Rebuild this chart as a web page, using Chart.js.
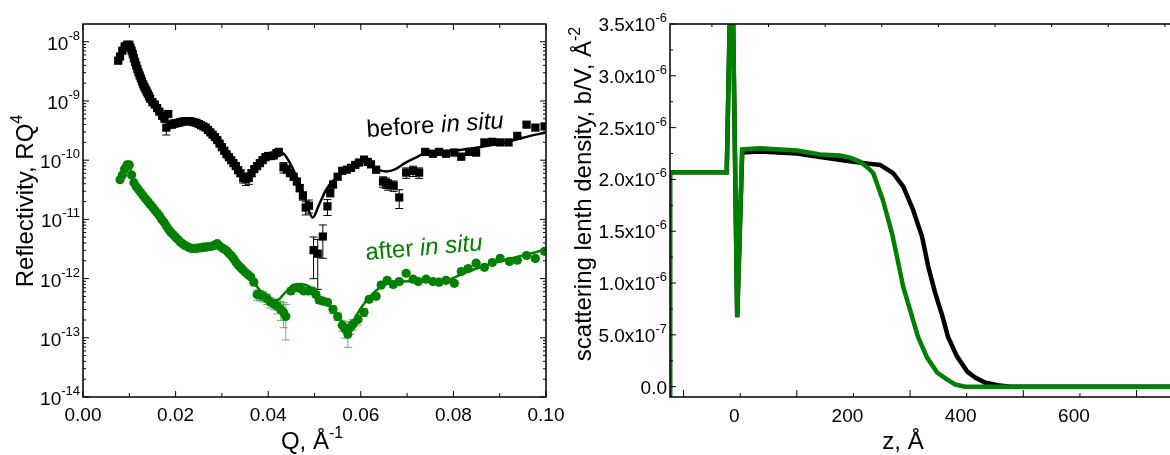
<!DOCTYPE html>
<html>
<head>
<meta charset="utf-8">
<script src="https://cdn.jsdelivr.net/npm/chart.js@4.4.0/dist/chart.umd.min.js"></script>
<style>
    html, body { margin: 0; padding: 0; background: #fff; overflow: hidden; }
    #izq { position: absolute; left: 0; top: 0; }
    #der { position: absolute; left: 560px; top: 0; }
</style>
</head>
<body>
<canvas id="izq" width="600" height="455"></canvas>
<canvas id="der" width="610" height="455"></canvas>
<script>
// ---- datos panel izquierdo (Q en 1/A, exponente log10 de RQ^4) ----
const qBefore = [
    0.0076,0.0080,0.0085,0.0090,0.0095,0.0100,0.0105,0.0110,0.0115,0.0120,
    0.0125,0.0130,0.0135,0.0140,0.0145,0.0150,0.0155,0.0160,0.0165,0.0171,
    0.0176,0.0180,0.0184,0.0188,0.0192,0.0196,0.0200,0.0205,0.0210,0.0215,
    0.0220,0.0225,0.0230,0.0235,0.0240,0.0245,0.0250,0.0255,0.0260,0.0265,
    0.0270,0.0275,0.0280,0.0285,0.0290,0.0295,0.0300,0.0305,0.0310,0.0315,
    0.0320,0.0325,0.0330,0.0335,0.0340,0.0346,0.0352,0.0358,0.0364,0.0370,
    0.0376,0.0382,0.0388,0.0394,0.0400,0.0406,0.0412,0.0418,0.0423,0.0433,
    0.0440,0.0447,0.0455,0.0462,0.0468,0.0475,0.0481,0.0488,0.0498,0.0507,
    0.0518,0.0528,0.0534,0.0540,0.0550,0.0560,0.0570,0.0579,0.0588,0.0596,
    0.0607,0.0615,0.0622,0.0633,0.0648,0.0654,0.0659,0.0671,0.0683,0.0698,
    0.0713,0.0726,0.0739,0.0756,0.0769,0.0784,0.0802,0.0817,0.0834,0.0849,
    0.0867,0.0884,0.0901,0.0919,0.0938,0.0958,0.0977,0.0997,
    // puntos densos de la zona empinada
    0.01025,0.01075,0.01125,0.01175,0.01225,0.01275,0.01325,0.01375,0.01425
];
const lgBefore = [
    -8.32,-8.25,-8.15,-8.08,-8.05,-8.05,-8.15,-8.28,-8.40,-8.52,
    -8.62,-8.72,-8.80,-8.88,-8.96,-9.02,-9.06,-9.12,-9.18,-9.25,
    -9.30,-9.45,-9.22,-9.40,-9.40,-9.38,-9.38,-9.37,-9.36,-9.35,
    -9.34,-9.34,-9.34,-9.35,-9.36,-9.37,-9.39,-9.41,-9.43,-9.45,
    -9.49,-9.53,-9.57,-9.61,-9.66,-9.72,-9.78,-9.84,-9.90,-9.95,
    -10.00,-10.05,-10.10,-10.17,-10.22,-10.30,-10.32,-10.30,-10.22,-10.15,
    -10.10,-10.05,-10.00,-9.95,-9.93,-9.93,-9.92,-9.88,-9.86,-10.12,
    -10.15,-10.22,-10.28,-10.36,-10.47,-10.60,-10.80,-10.77,-11.52,-11.58,
    -11.29,-10.78,-10.55,-10.41,-10.28,-10.18,-10.16,-10.13,-10.08,-10.04,
    -9.99,-10.03,-10.07,-10.16,-10.36,-10.38,-10.41,-10.43,-10.63,-10.21,
    -10.18,-10.21,-9.86,-9.89,-9.86,-9.89,-9.87,-9.94,-9.86,-9.87,
    -9.70,-9.69,-9.70,-9.70,-9.59,-9.40,-9.45,-9.43,
    -8.10,-8.21,-8.34,-8.46,-8.57,-8.67,-8.76,-8.84,-8.92
];
// error relativo de cada punto
const errBefore = [
    0.05,0.05,0.05,0.05,0.05,0.05,0.05,0.05,0.05,0.05,
    0.05,0.05,0.05,0.05,0.05,0.05,0.05,0.05,0.05,0.05,
    0.06,0.25,0.10,0.10,0.08,0.08,0.06,0.06,0.06,0.06,
    0.06,0.06,0.06,0.06,0.06,0.06,0.06,0.06,0.06,0.06,
    0.06,0.06,0.06,0.06,0.06,0.06,0.06,0.06,0.06,0.06,
    0.06,0.08,0.10,0.10,0.12,0.18,0.22,0.22,0.12,0.10,
    0.10,0.10,0.10,0.10,0.10,0.10,0.10,0.10,0.10,0.20,
    0.15,0.12,0.12,0.12,0.14,0.16,0.25,0.25,0.67,0.75,
    0.57,0.30,0.15,0.12,0.10,0.10,0.10,0.10,0.10,0.10,
    0.10,0.10,0.12,0.12,0.20,0.20,0.20,0.20,0.35,0.20,
    0.20,0.20,0.12,0.12,0.12,0.12,0.12,0.12,0.12,0.12,
    0.10,0.10,0.10,0.10,0.10,0.10,0.10,0.10,
    0.05,0.05,0.05,0.05,0.05,0.05,0.05,0.05,0.05
];

const qAfter = [
    0.0080,0.0085,0.0090,0.0095,0.0100,0.0105,0.0110,0.0115,0.0120,0.0125,
    0.0130,0.0135,0.0140,0.0145,0.0150,0.0155,0.0160,0.0165,0.0170,0.0175,
    0.0180,0.0185,0.0190,0.0195,0.0200,0.0205,0.0210,0.0215,0.0220,0.0225,
    0.0230,0.0235,0.0240,0.0245,0.0250,0.0255,0.0260,0.0265,0.0270,0.0275,
    0.0280,0.0285,0.0290,0.0295,0.0300,0.0305,0.0310,0.0315,0.0320,0.0325,
    0.0330,0.0335,0.0340,0.0345,0.0350,0.0356,0.0362,0.0369,0.0376,0.0383,
    0.0390,0.0398,0.0405,0.0413,0.0420,0.0427,0.0433,0.0438,0.0449,0.0456,
    0.0463,0.0470,0.0477,0.0486,0.0496,0.0503,0.0510,0.0518,0.0528,0.0540,
    0.0550,0.0560,0.0566,0.0572,0.0578,0.0583,0.0594,0.0607,0.0618,0.0633,
    0.0644,0.0657,0.0670,0.0683,0.0698,0.0713,0.0724,0.0741,0.0756,0.0769,
    0.0784,0.0802,0.0817,0.0832,0.0849,0.0867,0.0884,0.0901,0.0921,0.0938,
    0.0958,0.0977,0.0997
];
const lgAfter = [
    -10.33,-10.25,-10.15,-10.08,-10.08,-10.25,-10.38,-10.45,-10.50,-10.55,
    -10.60,-10.65,-10.70,-10.75,-10.79,-10.84,-10.89,-10.94,-11.00,-11.05,
    -11.11,-11.17,-11.22,-11.26,-11.30,-11.34,-11.38,-11.41,-11.44,-11.46,
    -11.48,-11.49,-11.49,-11.49,-11.48,-11.48,-11.47,-11.47,-11.46,-11.46,
    -11.45,-11.43,-11.41,-11.45,-11.48,-11.50,-11.53,-11.57,-11.61,-11.66,
    -11.72,-11.77,-11.81,-11.85,-11.89,-11.93,-11.97,-12.06,-12.27,-12.28,
    -12.30,-12.34,-12.40,-12.43,-12.47,-12.52,-12.57,-12.64,-12.21,-12.16,
    -12.15,-12.17,-12.21,-12.21,-12.21,-12.27,-12.36,-12.38,-12.40,-12.52,
    -12.64,-12.79,-12.85,-12.94,-12.82,-12.77,-12.69,-12.57,-12.35,-12.30,
    -12.11,-12.03,-12.10,-12.05,-11.91,-12.01,-12.05,-12.01,-12.05,-12.06,
    -12.03,-12.08,-11.88,-11.83,-11.74,-11.81,-11.73,-11.66,-11.71,-11.69,
    -11.61,-11.66,-11.54
];
const errAfter = [
    0.05,0.05,0.05,0.05,0.05,0.05,0.05,0.05,0.05,0.05,
    0.05,0.05,0.05,0.05,0.05,0.05,0.05,0.05,0.05,0.05,
    0.05,0.05,0.05,0.05,0.05,0.05,0.05,0.05,0.05,0.05,
    0.05,0.05,0.05,0.05,0.05,0.05,0.05,0.05,0.05,0.05,
    0.05,0.05,0.05,0.05,0.05,0.05,0.05,0.05,0.05,0.05,
    0.05,0.05,0.06,0.06,0.06,0.08,0.08,0.10,0.20,0.20,
    0.20,0.20,0.20,0.20,0.25,0.35,0.45,0.60,0.12,0.10,
    0.10,0.10,0.10,0.10,0.10,0.10,0.12,0.12,0.12,0.15,
    0.15,0.20,0.30,0.40,0.25,0.20,0.20,0.15,0.12,0.10,
    0.10,0.10,0.10,0.10,0.10,0.10,0.10,0.10,0.10,0.10,
    0.10,0.10,0.10,0.10,0.10,0.10,0.10,0.10,0.10,0.10,
    0.10,0.10,0.10
];

// curvas de ajuste
const fitQBefore = [
    0.0076,0.0095,0.0100,0.0110,0.0130,0.0150,0.0170,0.0185,0.0200,0.0230,
    0.0260,0.0290,0.0320,0.0340,0.0352,0.0365,0.0390,0.0415,0.0430,0.0445,
    0.0465,0.0480,0.0496,0.0510,0.0525,0.0540,0.0560,0.0580,0.0600,0.0615,
    0.0635,0.0655,0.0675,0.0695,0.0715,0.0740,0.0770,0.0800,0.0850,0.0900,
    0.0950,0.1000
];
const fitLgBefore = [
    -8.32,-8.05,-8.05,-8.28,-8.72,-9.02,-9.24,-9.38,-9.38,-9.34,
    -9.43,-9.66,-10.00,-10.20,-10.26,-10.18,-10.00,-9.90,-9.88,-10.02,
    -10.35,-10.65,-10.97,-10.75,-10.50,-10.35,-10.22,-10.12,-10.02,-10.05,
    -10.15,-10.19,-10.15,-10.05,-9.97,-9.88,-9.85,-9.84,-9.79,-9.72,
    -9.62,-9.53
];
const fitQAfter = [
    0.0080,0.0098,0.0110,0.0130,0.0150,0.0170,0.0190,0.0210,0.0230,0.0250,
    0.0270,0.0290,0.0310,0.0330,0.0350,0.0370,0.0390,0.0410,0.0420,0.0435,
    0.0450,0.0470,0.0490,0.0510,0.0530,0.0550,0.0565,0.0572,0.0585,0.0600,
    0.0620,0.0640,0.0660,0.0690,0.0720,0.0760,0.0790,0.0820,0.0850,0.0900,
    0.0950,0.1000
];
const fitLgAfter = [
    -10.33,-10.07,-10.38,-10.60,-10.79,-11.00,-11.22,-11.38,-11.48,-11.48,
    -11.46,-11.42,-11.53,-11.72,-11.89,-12.08,-12.27,-12.36,-12.36,-12.25,
    -12.14,-12.09,-12.14,-12.30,-12.45,-12.62,-12.78,-12.82,-12.70,-12.50,
    -12.30,-12.16,-12.08,-12.05,-12.04,-12.04,-12.02,-11.92,-11.83,-11.71,
    -11.61,-11.51
];

// ---- datos panel derecho (z en A, densidad en 1e-6 A^-2) ----
const zAfter = [-124,-124,-23.8,-15,-5.3,3.5,35,100,141,176,194,212,228,235,252,268,277,288,300,314,330,348,365,380,397,759];
const sldAfter = [-0.12,2.07,2.07,4.5,0.67,2.29,2.30,2.28,2.24,2.23,2.21,2.17,2.10,2.06,1.80,1.48,1.25,0.96,0.74,0.48,0.28,0.135,0.07,0.02,0.0,0.0];
const zBefore = [-124,-124,-23.8,-15,-5.3,3.5,35,100,150,200,230,247,270,288,305,321,332,344,357,367,383,401,415,432,459,477,759];
const sldBefore = [-0.12,2.07,2.07,4.5,0.67,2.26,2.27,2.25,2.21,2.17,2.15,2.14,2.06,1.93,1.71,1.45,1.16,0.91,0.68,0.48,0.29,0.145,0.087,0.04,0.01,0.0,0.0];

// ticks
const qTicks = [0, 0.02, 0.04, 0.06, 0.08, 0.10];
const qTickLabels = ['0.00', '0.02', '0.04', '0.06', '0.08', '0.10'];
const lgTicks = [-14, -13, -12, -11, -10, -9, -8];
const zTicks = [0, 200, 400, 600];
const sldTicks = [0, 0.5, 1.0, 1.5, 2.0, 2.5, 3.0, 3.5];
const sldTickLabels = [['0.0', ''], ['5.0x10', '-7'], ['1.0x10', '-6'], ['1.5x10', '-6'],
    ['2.0x10', '-6'], ['2.5x10', '-6'], ['3.0x10', '-6'], ['3.5x10', '-6']];

const VERDE = 'rgb(0,128,0)';

const puntos = (xs, ys) => xs.map((x, i) => ({x, y: ys[i]}));
const fuente = (s, it) => (it ? 'italic ' : '') + s + 'px "Liberation Sans", Arial, sans-serif';

// texto con superindice
const textoSup = (ctx, base, sup, x, y, size, supSize, raise, align) => {
    ctx.font = fuente(size);
    const wb = ctx.measureText(base).width;
    ctx.font = fuente(supSize);
    const ws = sup ? ctx.measureText(sup).width : 0;
    let x0 = x;
    if (align === 'right') x0 = x - wb - ws;
    if (align === 'center') x0 = x - (wb + ws) / 2;
    ctx.textAlign = 'left';
    ctx.textBaseline = 'alphabetic';
    ctx.font = fuente(size);
    ctx.fillText(base, x0, y);
    if (sup) {
        ctx.font = fuente(supSize);
        ctx.fillText(sup, x0 + wb, y - raise);
    }
};

const textoRotado = (ctx, partes, x, y, ang, color) => {
    ctx.save();
    ctx.translate(x, y);
    ctx.rotate(ang * Math.PI / 180);
    ctx.fillStyle = color;
    ctx.textAlign = 'left';
    ctx.textBaseline = 'alphabetic';
    let cx = 0;
    partes.forEach(([t, it]) => {
        ctx.font = fuente(24, it);
        ctx.fillText(t, cx, 0);
        cx += ctx.measureText(t).width;
    });
    ctx.restore();
};

// barras de error (error relativo -> limites en escala log)
const barrasError = {
    id: 'barrasError',
    beforeDatasetsDraw(chart) {
        const {ctx, chartArea: a, scales: {x, y}} = chart;
        ctx.save();
        ctx.beginPath();
        ctx.rect(a.left, a.top, a.right - a.left, a.bottom - a.top);
        ctx.clip();
        chart.data.datasets.forEach(ds => {
            if (!ds.errs) return;
            ctx.strokeStyle = ds.errColor;
            ctx.lineWidth = 1;
            ctx.beginPath();
            ds.data.forEach((p, i) => {
                const e = ds.errs[i];
                const px = x.getPixelForValue(p.x);
                const top = y.getPixelForValue(p.y + Math.log10(1 + e));
                const bot = y.getPixelForValue(p.y + Math.log10(1 - e));
                ctx.moveTo(px, top); ctx.lineTo(px, bot);
                ctx.moveTo(px - 4, top); ctx.lineTo(px + 4, top);
                ctx.moveTo(px - 4, bot); ctx.lineTo(px + 4, bot);
            });
            ctx.stroke();
        });
        ctx.restore();
    }
};

// marco, ticks y rotulos del panel izquierdo
const ejesIzq = {
    id: 'ejesIzq',
    afterDraw(chart) {
        const {ctx, chartArea: a, scales: {x, y}} = chart;
        ctx.save();
        ctx.strokeStyle = '#000';
        ctx.fillStyle = '#000';
        ctx.lineWidth = 1.5;
        ctx.strokeRect(a.left, a.top, a.right - a.left, a.bottom - a.top);
        ctx.lineWidth = 1;
        ctx.beginPath();
        for (let k = 0; k <= 10; k++) {
            const px = x.getPixelForValue(k / 100);
            const len = k % 2 ? 4 : 6;
            ctx.moveTo(px, a.bottom); ctx.lineTo(px, a.bottom - len);
            ctx.moveTo(px, a.top); ctx.lineTo(px, a.top + len);
        }
        for (let d = -14; d <= -8; d++) {
            for (let m = 1; m <= 9; m++) {
                const v = d + Math.log10(m);
                if (v > y.max) break;
                const py = y.getPixelForValue(v);
                const len = m === 1 ? 6 : 3;
                ctx.moveTo(a.left, py); ctx.lineTo(a.left + len, py);
                ctx.moveTo(a.right, py); ctx.lineTo(a.right - len, py);
            }
        }
        ctx.stroke();

        qTicks.forEach((q, i) => {
            textoSup(ctx, qTickLabels[i], '', x.getPixelForValue(q), 421, 19, 13, 10, 'center');
        });
        lgTicks.forEach(d => {
            textoSup(ctx, '10', String(d), 80, y.getPixelForValue(d) + 8, 19, 13, 10, 'right');
        });

        textoSup(ctx, 'Q, Å', '-1', 312, 449, 24, 16, 11, 'center');
        ctx.save();
        ctx.translate(33, 201);
        ctx.rotate(-Math.PI / 2);
        textoSup(ctx, 'Reflectivity, RQ', '4', 0, 0, 24, 16, 11, 'center');
        ctx.restore();

        textoRotado(ctx, [['before ', false], ['in situ', true]], 367, 137, -3.7, '#000');
        textoRotado(ctx, [['after ', false], ['in situ', true]], 366, 260, -4.8, VERDE);
        ctx.restore();
    }
};

// marco, ticks y rotulos del panel derecho
const ejesDer = {
    id: 'ejesDer',
    afterDraw(chart) {
        const {ctx, chartArea: a, scales: {x, y}} = chart;
        ctx.save();
        ctx.strokeStyle = '#000';
        ctx.fillStyle = '#000';
        ctx.lineWidth = 1.5;
        ctx.beginPath();
        ctx.moveTo(a.right, a.top); ctx.lineTo(a.left, a.top);
        ctx.lineTo(a.left, a.bottom); ctx.lineTo(a.right, a.bottom);
        ctx.stroke();
        ctx.lineWidth = 1;
        ctx.beginPath();
        for (let z = -100; z <= 700; z += 100) {
            const px = x.getPixelForValue(z);
            const len = (z / 100) % 2 ? 7 : 4;
            ctx.moveTo(px, a.bottom); ctx.lineTo(px, a.bottom - len);
            const pt = x.getPixelForValue(z + 50);
            ctx.moveTo(pt, a.top); ctx.lineTo(pt, a.top + 3);
        }
        for (let v = 0; v <= 3.5; v += 0.25) {
            const py = y.getPixelForValue(v);
            const len = (v * 4) % 2 ? 3 : 6;
            ctx.moveTo(a.left, py); ctx.lineTo(a.left + len, py);
        }
        ctx.stroke();

        zTicks.forEach(z => {
            textoSup(ctx, String(z), '', x.getPixelForValue(z) - 6, 422, 19, 13, 9, 'center');
        });
        sldTicks.forEach((v, i) => {
            const [b, s] = sldTickLabels[i];
            textoSup(ctx, b, s, 107, y.getPixelForValue(v) + 7, 19, 13, 9, 'right');
        });

        textoSup(ctx, 'z, Å', '', 343, 449, 24, 16, 11, 'center');
        ctx.save();
        ctx.translate(31, 194);
        ctx.rotate(-Math.PI / 2);
        textoSup(ctx, 'scattering lenth density, b/V, Å', '-2', 0, 0, 24, 16, 11, 'center');
        ctx.restore();
        ctx.restore();
    }
};

const opcionesBase = (padding, xmin, xmax, ymin, ymax) => ({
    responsive: false,
    animation: false,
    devicePixelRatio: 1,
    layout: { padding },
    plugins: { legend: { display: false }, tooltip: { enabled: false } },
    scales: {
        x: { type: 'linear', min: xmin, max: xmax, display: false },
        y: { type: 'linear', min: ymin, max: ymax, display: false }
    }
});

new Chart(document.getElementById('izq'), {
    type: 'scatter',
    data: {
        datasets: [
            {
                data: puntos(fitQBefore, fitLgBefore),
                showLine: true, pointRadius: 0, borderWidth: 2.5,
                borderColor: '#000', cubicInterpolationMode: 'monotone'
            },
            {
                data: puntos(fitQAfter, fitLgAfter),
                showLine: true, pointRadius: 0, borderWidth: 2.5,
                borderColor: VERDE, cubicInterpolationMode: 'monotone'
            },
            {
                data: puntos(qBefore, lgBefore), errs: errBefore, errColor: '#000',
                pointStyle: 'rect', pointRadius: 5.8, borderWidth: 0,
                backgroundColor: '#000'
            },
            {
                data: puntos(qAfter, lgAfter), errs: errAfter, errColor: 'rgba(0,128,0,0.6)',
                pointStyle: 'circle', pointRadius: 4.6, borderWidth: 0,
                backgroundColor: VERDE
            }
        ]
    },
    options: opcionesBase({left: 83, right: 54, top: 24, bottom: 58}, 0, 0.1, -14, -7.7),
    plugins: [barrasError, ejesIzq]
});

new Chart(document.getElementById('der'), {
    type: 'scatter',
    data: {
        datasets: [
            {
                data: puntos(zAfter, sldAfter),
                showLine: true, pointRadius: 0, borderWidth: 4.5,
                borderColor: VERDE, tension: 0
            },
            {
                data: puntos(zBefore, sldBefore),
                showLine: true, pointRadius: 0, borderWidth: 4.5,
                borderColor: '#000', tension: 0
            }
        ]
    },
    options: opcionesBase({left: 110, right: 0, top: 24, bottom: 58}, -124, 759, -0.1, 3.5),
    plugins: [ejesDer]
});
</script>
</body>
</html>
